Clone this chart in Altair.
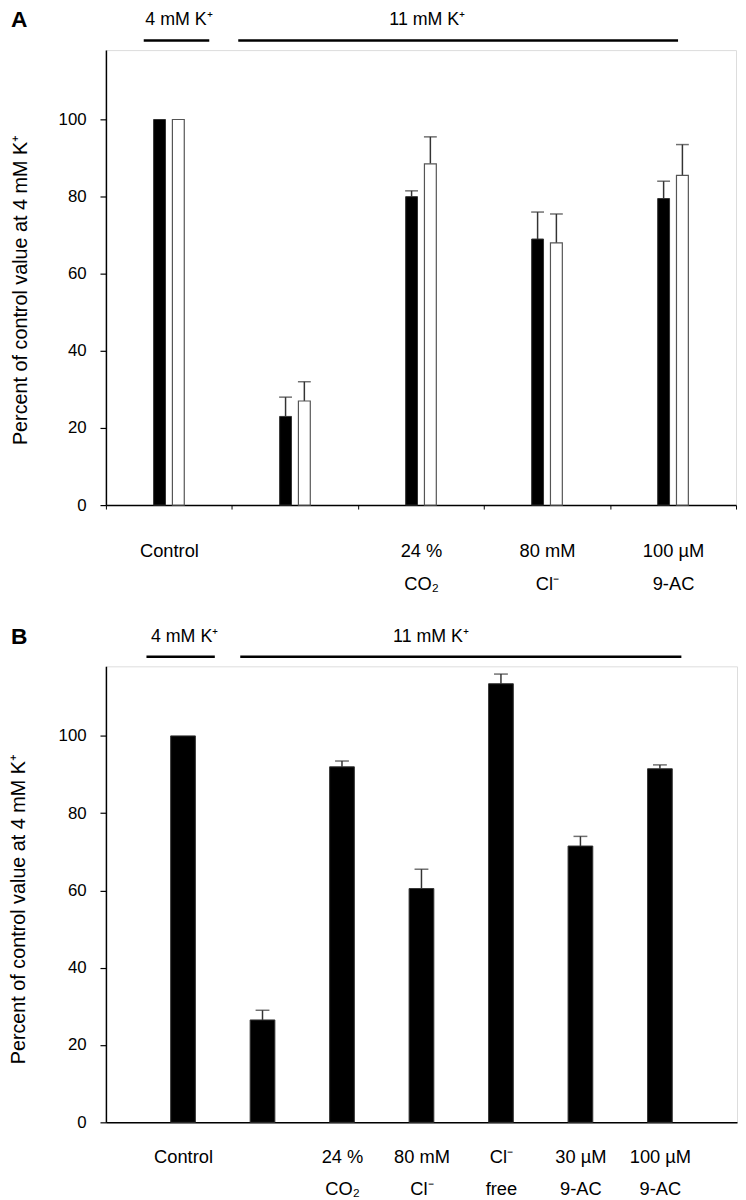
import altair as alt
import pandas as pd

FONT = "Liberation Sans, Arial, Helvetica, sans-serif"

# ---------------- Panel A data ----------------
a_groups = ["Control", " ", "24 %\nCO₂", "80 mM\nCl⁻", "100 µM\n9-AC"]
a_black = [100, 23, 80, 69, 79.5]
a_black_err = [0, 5, 1.5, 7, 4.5]
a_white = [100, 27, 88.5, 68, 85.5]
a_white_err = [0, 5, 7, 7.5, 8]

# ---------------- Panel B data ----------------
b_groups = ["Control", " ", "24 %\nCO₂", "80 mM\nCl⁻", "Cl⁻\nfree", "30 µM\n9-AC", "100 µM\n9-AC"]
b_values = [100, 26.5, 92, 60.5, 113.5, 71.5, 91.5]
b_err = [0, 2.5, 1.5, 5, 2.5, 2.5, 1]

# header annotations (x in category units, y in data units)
header_labels = ["4 mM K⁺", "11 mM K⁺"]
a_span_start = [-0.20, 0.55]
a_span_end = [0.32, 4.04]
a_text_x = [0.08, 2.05]
b_span_start = [-0.46, 0.72]
b_span_end = [0.40, 6.27]
b_text_x = [0.02, 3.12]
line_level = [120.5, 120.5]
text_level = [125.7, 125.7]

Y_MAX = 118
y_ticks = [0, 20, 40, 60, 80, 100]
Y_TITLE = "Percent of control value at 4 mM K⁺"

dfA = pd.DataFrame({"group": a_groups, "black": a_black, "black_err": a_black_err,
                    "white": a_white, "white_err": a_white_err})
dfA["black_top"] = dfA["black"] + dfA["black_err"]
dfA["white_top"] = dfA["white"] + dfA["white_err"]
dfA_err = dfA[dfA["black_err"] > 0]

dfB = pd.DataFrame({"group": b_groups, "value": b_values, "err": b_err})
dfB["top"] = dfB["value"] + dfB["err"]
dfB_err = dfB[dfB["err"] > 0]


def y_axis(title_padding, title_y):
    return alt.Axis(title=Y_TITLE, values=y_ticks, grid=False, tickSize=6, tickColor="black",
                    domainColor="black", domainWidth=1.5, tickWidth=1.2,
                    labelFontSize=17, labelColor="black", labelPadding=14,
                    titleFontSize=20, titleFontWeight="normal", titleColor="black",
                    titlePadding=title_padding, titleY=title_y)


def header_layer(starts, ends, text_x, label_x, panel_label, domain, yscale, yax):
    xs = alt.Scale(domain=domain, nice=False, zero=False)
    lines = pd.DataFrame({"start": starts, "end": ends, "level": line_level})
    texts = pd.DataFrame({"label": header_labels, "x": text_x, "level": text_level})
    plab = pd.DataFrame({"label": [panel_label], "x": [label_x], "level": [text_level[0]]})
    l1 = alt.Chart(lines).mark_rule(color="black", strokeWidth=2.5).encode(
        x=alt.X("start:Q", scale=xs, axis=None), x2="end:Q",
        y=alt.Y("level:Q", scale=yscale, axis=yax))
    l2 = alt.Chart(texts).mark_text(fontSize=18, font=FONT, align="center", baseline="middle",
                                    color="black").encode(
        x=alt.X("x:Q", scale=xs, axis=None), y=alt.Y("level:Q", scale=yscale, axis=yax),
        text="label:N")
    l3 = alt.Chart(plab).mark_text(fontSize=23, font=FONT, fontWeight="bold", align="left",
                                   baseline="middle", color="black").encode(
        x=alt.X("x:Q", scale=xs, axis=None), y=alt.Y("level:Q", scale=yscale, axis=yax),
        text="label:N")
    return alt.layer(l1, l2, l3)


# ---------------- Panel A ----------------
yA = alt.Scale(domain=[0, Y_MAX], nice=False, zero=True)
yaxA = y_axis(28, 242)
xA_scale = alt.Scale(domain=a_groups, paddingInner=0, paddingOuter=0)
xA_axis = alt.Axis(title=None, labelExpr="split(datum.label, '\\n')", tickBand="extent",
                   tickSize=4, tickColor="black", labelAngle=0, labelPadding=33,
                   labelLineHeight=33, labelFontSize=18.5, labelColor="black",
                   domainColor="black", domainWidth=1.5, labelBaseline="top")


def xA(band=False):
    if band:
        return alt.X("group:N", sort=a_groups, scale=xA_scale, axis=xA_axis, bandPosition=0.5)
    return alt.X("group:N", sort=a_groups, scale=xA_scale, axis=xA_axis)


OFF = 9.5
blackA = alt.Chart(dfA).mark_bar(color="black", stroke="#333", strokeWidth=1, size=12,
                                 xOffset=-OFF).encode(
    x=xA(), y=alt.Y("black:Q", scale=yA, axis=yaxA))
whiteA = alt.Chart(dfA).mark_bar(color="white", stroke="#555", strokeWidth=1.2, size=12,
                                 xOffset=OFF).encode(
    x=xA(), y=alt.Y("white:Q", scale=yA, axis=yaxA))
errBA = alt.Chart(dfA_err).mark_rule(color="#333", strokeWidth=1.5, xOffset=-OFF).encode(
    x=xA(True), y=alt.Y("black:Q", scale=yA, axis=yaxA), y2="black_top:Q")
capBA = alt.Chart(dfA_err).mark_tick(color="#333", thickness=1.5, size=13, xOffset=-OFF).encode(
    x=xA(), y=alt.Y("black_top:Q", scale=yA, axis=yaxA))
errWA = alt.Chart(dfA_err).mark_rule(color="#333", strokeWidth=1.5, xOffset=OFF).encode(
    x=xA(True), y=alt.Y("white:Q", scale=yA, axis=yaxA), y2="white_top:Q")
capWA = alt.Chart(dfA_err).mark_tick(color="#333", thickness=1.5, size=13, xOffset=OFF).encode(
    x=xA(), y=alt.Y("white_top:Q", scale=yA, axis=yaxA))

mainA = alt.layer(errBA, capBA, errWA, capWA, blackA, whiteA)
panelA = alt.layer(
    mainA,
    header_layer(a_span_start, a_span_end, a_text_x, -1.254, "A", [-0.5, 4.5], yA, yaxA)
).resolve_scale(x="independent").properties(width=637, height=460)

# ---------------- Panel B ----------------
PAD_B = 0.97
yB = alt.Scale(domain=[0, Y_MAX], nice=False, zero=True)
yaxB = y_axis(30, 245)
xB_scale = alt.Scale(type="point", domain=b_groups, padding=PAD_B)
xB_axis = alt.Axis(title=None, labelExpr="split(datum.label, '\\n')", ticks=False, tickSize=0,
                   labelAngle=0, labelPadding=26, labelLineHeight=32, labelFontSize=18.5,
                   labelColor="black", domainColor="black", domainWidth=1.5,
                   labelBaseline="top")
xB = alt.X("group:N", sort=b_groups, scale=xB_scale, axis=xB_axis)

barsB = alt.Chart(dfB).mark_bar(color="black", stroke="#333", strokeWidth=1, size=25).encode(
    x=xB, y=alt.Y("value:Q", scale=yB, axis=yaxB))
errB = alt.Chart(dfB_err).mark_rule(color="#333", strokeWidth=1.5).encode(
    x=xB, y=alt.Y("value:Q", scale=yB, axis=yaxB), y2="top:Q")
capB = alt.Chart(dfB_err).mark_tick(color="#333", thickness=1.5, size=14).encode(
    x=xB, y=alt.Y("top:Q", scale=yB, axis=yaxB))

mainB = alt.layer(errB, capB, barsB)
panelB = alt.layer(
    mainB,
    header_layer(b_span_start, b_span_end, b_text_x, -2.165, "B", [-PAD_B, 6 + PAD_B], yB, yaxB)
).resolve_scale(x="independent").properties(width=638, height=461)

chart = alt.vconcat(panelA, panelB, spacing=32).properties(
    padding={"left": 0, "top": -6, "right": 0, "bottom": 0}
).configure_view(stroke=None).configure(font=FONT)

chart.save("out.html", embed_options={"renderer": "svg", "actions": False})
